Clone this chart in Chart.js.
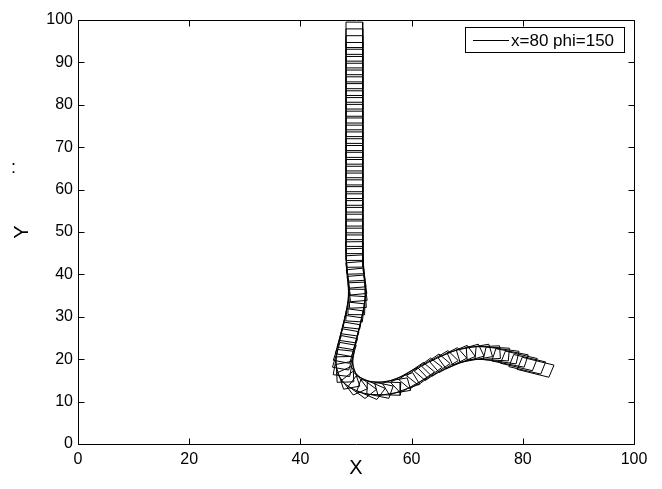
<!DOCTYPE html>
<html>
<head>
<meta charset="utf-8">
<script src="https://cdn.jsdelivr.net/npm/chart.js@4.4.1/dist/chart.umd.min.js"></script>
<style>
    body { margin: 0; background: #fff; }
    #wrap { width: 662px; height: 489px; }
</style>
</head>
<body>
<div id="wrap"><canvas id="truckChart"></canvas></div>
<script>
// Centre of the truck at each step, in order of motion
const pathX = [
    82.3, 80.8, 79.3, 77.7, 76.1, 74.5, 72.9, 71.3, 69.7, 68.1,
    66.6, 65.1, 63.7, 62.3, 60.9, 59.5, 58.1, 56.6, 55.0, 53.4,
    51.9, 50.5, 49.3, 48.5, 48.0, 47.8, 47.9, 48.1, 48.4, 48.7,
    49.0, 49.3, 49.6, 49.9, 50.1, 50.2, 50.2, 50.1, 50.0, 49.9,
    49.8, 49.7, 49.7, 49.7, 49.7, 49.7, 49.7, 49.7, 49.7, 49.7,
    49.7, 49.7, 49.7, 49.7, 49.7, 49.7, 49.7, 49.7, 49.7, 49.7,
    49.7, 49.7, 49.7, 49.7, 49.7, 49.7, 49.7, 49.7, 49.7, 49.7,
    49.7, 49.7, 49.7, 49.7
];
const pathY = [
    18.1, 18.8, 19.6, 20.3, 20.9, 21.3, 21.5, 21.4, 21.1, 20.5,
    19.8, 19.0, 18.1, 17.1, 16.1, 15.1, 14.2, 13.5, 13.1, 13.0,
    13.3, 13.9, 14.9, 16.2, 17.6, 19.1, 20.7, 22.3, 23.9, 25.5,
    27.1, 28.7, 30.3, 31.9, 33.5, 35.1, 36.7, 38.3, 39.9, 41.5,
    43.1, 44.7, 46.3, 47.9, 49.6, 51.2, 52.8, 54.4, 56.0, 57.7,
    59.3, 60.9, 62.5, 64.1, 65.8, 67.4, 69.0, 70.6, 72.2, 73.9,
    75.5, 77.1, 78.7, 80.3, 82.0, 83.6, 85.2, 86.8, 88.4, 90.1,
    91.7, 93.3, 94.9, 96.5
];
// body angle of the truck (degrees) at each step
const pathPhi = [
    162, 163, 163, 166, 170, 176, 183, 193, 200, 209,
    214, 218, 222, 224, 222, 216, 205, 192, 178, 165,
    150, 136, 120, 104, 92, 82, 77, 76, 77, 78,
    79, 80, 82, 85, 89, 93, 96, 97, 96, 94,
    92, 91, 90, 90, 90, 90, 90, 90, 90, 90,
    90, 90, 90, 90, 90, 90, 90, 90, 90, 90,
    90, 90, 90, 90, 90, 90, 90, 90, 90, 90,
    90, 90, 90, 90
];
const xTicks = [0, 20, 40, 60, 80, 100];
const yTicks = [0, 10, 20, 30, 40, 50, 60, 70, 80, 90, 100];
const seriesLabel = 'x=80 phi=150';

const boxLength = 6;   // along the body
const boxWidth = 3;

const tickFont = { family: 'Liberation Sans', size: 16 };

// every step drawn as a closed rectangle, gaps between them
function buildBoxes() {
    const pts = [];
    for (let i = 0; i < pathX.length; i++) {
        const a = pathPhi[i] * Math.PI / 180;
        const ux = Math.cos(a), uy = Math.sin(a);
        const nx = -uy, ny = ux;
        const hl = boxLength / 2, hw = boxWidth / 2;
        [[hl, hw], [hl, -hw], [-hl, -hw], [-hl, hw], [hl, hw]].forEach(([s, t]) => {
            pts.push({ x: pathX[i] + s * ux + t * nx, y: pathY[i] + s * uy + t * ny });
        });
        pts.push({ x: pathX[i], y: null });
    }
    return pts;
}

// box round the plot, ticks pointing inwards, legend inside top right
const matlabFrame = {
    id: 'matlabFrame',
    afterDraw(chart) {
        const { ctx, chartArea: ca, scales } = chart;
        const L = Math.round(ca.left) + 0.5, R = Math.round(ca.right) + 0.5;
        const T = Math.round(ca.top) + 0.5, B = Math.round(ca.bottom) + 0.5;
        const tl = 6;
        ctx.save();
        ctx.strokeStyle = '#000';
        ctx.lineWidth = 1;
        ctx.beginPath();
        ctx.rect(L, T, R - L, B - T);
        scales.x.ticks.forEach(t => {
            const px = Math.round(scales.x.getPixelForValue(t.value)) + 0.5;
            ctx.moveTo(px, B); ctx.lineTo(px, B - tl);
            ctx.moveTo(px, T); ctx.lineTo(px, T + tl);
        });
        scales.y.ticks.forEach(t => {
            const py = Math.round(scales.y.getPixelForValue(t.value)) + 0.5;
            ctx.moveTo(L, py); ctx.lineTo(L + tl, py);
            ctx.moveTo(R, py); ctx.lineTo(R - tl, py);
        });
        ctx.stroke();

        // legend
        const lx = 465.5, ly = 27.5, lw = 159, lh = 25;
        ctx.fillStyle = '#fff';
        ctx.fillRect(lx, ly, lw, lh);
        ctx.strokeRect(lx, ly, lw, lh);
        ctx.beginPath();
        ctx.moveTo(473, 40.5);
        ctx.lineTo(509, 40.5);
        ctx.stroke();
        ctx.fillStyle = '#000';
        ctx.font = '17px "Liberation Sans"';
        ctx.textBaseline = 'middle';
        ctx.fillText(chart.data.datasets[0].label, 511, ly + lh / 2 + 1);

        // stray mark left of the Y label
        ctx.font = '18px "Liberation Sans"';
        ctx.textAlign = 'center';
        ctx.fillText(':', 13.5, 168);
        ctx.restore();
    }
};

const ctx = document.getElementById('truckChart').getContext('2d');

new Chart(ctx, {
    type: 'scatter',
    data: {
        datasets: [{
            label: seriesLabel,
            data: buildBoxes(),
            showLine: true,
            spanGaps: false,
            borderColor: '#000',
            borderWidth: 1,
            pointRadius: 0,
            pointHoverRadius: 0,
            tension: 0
        }]
    },
    options: {
        responsive: true,
        maintainAspectRatio: false,
        animation: false,
        layout: {
            padding: { top: 20, right: 28, left: 0, bottom: 0 }
        },
        scales: {
            x: {
                type: 'linear',
                min: 0,
                max: 100,
                afterBuildTicks: s => { s.ticks = xTicks.map(v => ({ value: v })); },
                afterFit: s => { s.height = 45; },
                grid: { display: false, drawTicks: false },
                border: { display: false },
                ticks: {
                    color: '#000',
                    padding: 6,
                    maxRotation: 0,
                    font: tickFont
                },
                title: {
                    display: true,
                    text: 'X',
                    color: '#000',
                    font: { family: 'Liberation Sans', size: 20 },
                    padding: { top: 0, bottom: 9 }
                }
            },
            y: {
                type: 'linear',
                min: 0,
                max: 100,
                afterBuildTicks: s => { s.ticks = yTicks.map(v => ({ value: v })); },
                afterFit: s => { s.width = 78; },
                grid: { display: false, drawTicks: false },
                border: { display: false },
                ticks: {
                    color: '#000',
                    padding: 5,
                    font: tickFont
                },
                title: {
                    display: true,
                    text: 'Y',
                    color: '#000',
                    font: { family: 'Liberation Sans', size: 20 },
                    padding: { top: 10, bottom: 0 }
                }
            }
        },
        plugins: {
            legend: { display: false },
            tooltip: { enabled: false }
        }
    },
    plugins: [matlabFrame]
});
</script>
</body>
</html>
